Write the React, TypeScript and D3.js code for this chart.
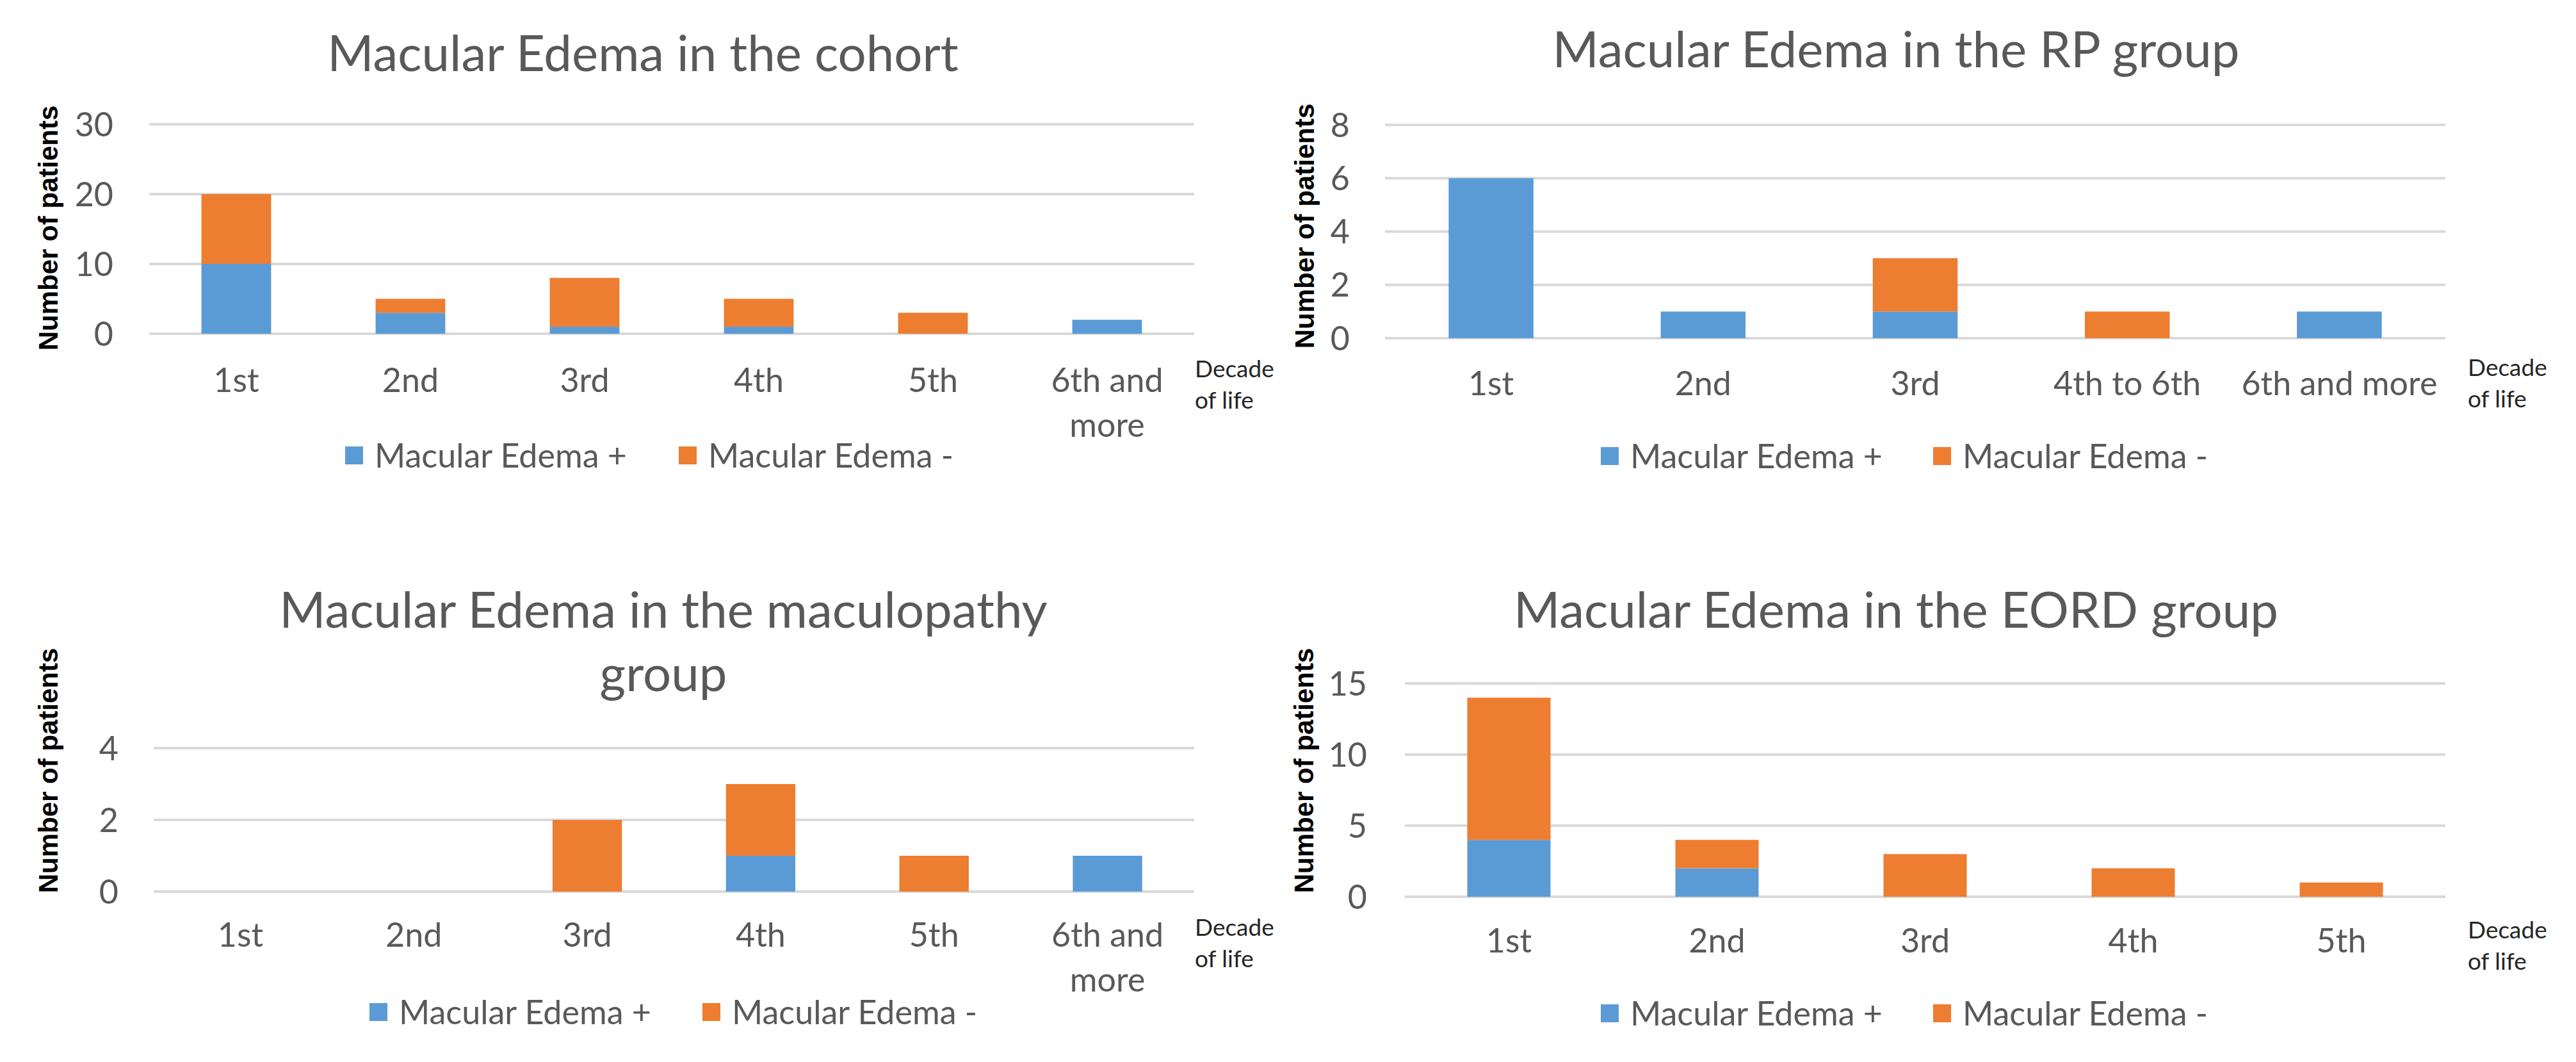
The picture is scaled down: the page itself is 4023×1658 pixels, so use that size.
import React from "react";
import * as d3 from "d3";

// decade-of-life categories per group
const cohortCats = ["1st", "2nd", "3rd", "4th", "5th", "6th and\nmore"];
const cohortPlus = [10, 3, 1, 1, 0, 2];
const cohortMinus = [10, 2, 7, 4, 3, 0];

const rpCats = ["1st", "2nd", "3rd", "4th to 6th", "6th and more"];
const rpPlus = [6, 1, 1, 0, 1];
const rpMinus = [0, 0, 2, 1, 0];

const macCats = ["1st", "2nd", "3rd", "4th", "5th", "6th and\nmore"];
const macPlus = [0, 0, 0, 1, 0, 1];
const macMinus = [0, 0, 2, 2, 1, 0];

const eordCats = ["1st", "2nd", "3rd", "4th", "5th"];
const eordPlus = [4, 2, 0, 0, 0];
const eordMinus = [10, 2, 3, 2, 1];

const seriesNames = ["Macular Edema +", "Macular Edema -"];
const seriesColors = ["#5B9BD5", "#ED7D31"];

const W = 4023;
const H = 1658;
const TEXT = "#595959";
const FONT = "Lato, 'Open Sans', sans-serif";

interface PanelProps {
  title: string[];
  titleX: number;
  titleY: number[];
  cats: string[];
  plus: number[];
  minus: number[];
  yMax: number;
  yStep: number;
  x0: number;
  x1: number;
  yTop: number;
  yBottom: number;
  tickRight: number;
  yTitleX: number;
  yTitleY: number;
  labelY: number;
  decadeX: number;
  decadeY: number;
  legendY: number;
  legendX: number[];
}

const Panel: React.FC<PanelProps> = (p) => {
  const x = d3.scaleBand<string>().domain(p.cats).range([p.x0, p.x1]).paddingInner(0.6).paddingOuter(0.3);
  const y = d3.scaleLinear().domain([0, p.yMax]).range([p.yBottom, p.yTop]);
  const ticks = d3.range(0, p.yMax + p.yStep / 2, p.yStep);
  const stacked = d3.stack<number>().keys(["0", "1"]).value((i, k) => (k === "0" ? p.plus[i] : p.minus[i]))(
    d3.range(p.cats.length)
  );

  return (
    <g>
      {p.title.map((t, i) => (
        <text key={i} x={p.titleX} y={p.titleY[i]} textAnchor="middle" fontSize={78} fill={TEXT} fontFamily={FONT}>
          {t}
        </text>
      ))}
      {ticks.map((t) => (
        <g key={t}>
          <line x1={p.x0} x2={p.x1} y1={y(t)} y2={y(t)} stroke="#D9D9D9" strokeWidth={4} />
          <text x={p.tickRight} y={y(t)} dy="0.36em" textAnchor="end" fontSize={52} fill={TEXT} fontFamily={FONT}>
            {t}
          </text>
        </g>
      ))}
      {stacked.map((s, k) =>
        s.map((d, i) =>
          d[1] - d[0] > 0 ? (
            <rect
              key={`${k}-${i}`}
              x={x(p.cats[i])}
              width={x.bandwidth()}
              y={y(d[1])}
              height={y(d[0]) - y(d[1])}
              fill={seriesColors[k]}
            />
          ) : null
        )
      )}
      {p.cats.map((c) => (
        <text
          key={c}
          x={(x(c) ?? 0) + x.bandwidth() / 2}
          y={p.labelY}
          textAnchor="middle"
          fontSize={52}
          fill={TEXT}
          fontFamily={FONT}
        >
          {c.split("\n").map((line, j) => (
            <tspan key={j} x={(x(c) ?? 0) + x.bandwidth() / 2} dy={j === 0 ? 0 : 70}>
              {line}
            </tspan>
          ))}
        </text>
      ))}
      <text x={p.decadeX} y={p.decadeY} fontSize={37} fill="#262626" fontFamily={FONT}>
        <tspan x={p.decadeX}>Decade</tspan>
        <tspan x={p.decadeX} dy={49}>of life</tspan>
      </text>
      <text
        transform={`translate(${p.yTitleX},${p.yTitleY}) rotate(-90)`}
        textAnchor="middle"
        dy="0.35em"
        fontSize={42}
        fontWeight="bold"
        fill="#000"
        fontFamily="'Liberation Sans', Arial, sans-serif"
      >
        Number of patients
      </text>
      {seriesNames.map((n, k) => (
        <g key={n}>
          <rect x={p.legendX[k]} y={p.legendY - 14} width={28} height={28} fill={seriesColors[k]} />
          <text x={p.legendX[k] + 46} y={p.legendY} dy="0.36em" fontSize={52} fill={TEXT} fontFamily={FONT}>
            {n}
          </text>
        </g>
      ))}
    </g>
  );
};

const App: React.FC = () => {
  return (
    <svg width={W} height={H} style={{ position: "absolute", left: 0, top: 0, background: "#fff" }}>
      <rect width={W} height={H} fill="#fff" />
      <Panel
        title={["Macular Edema in the cohort"]}
        titleX={1004}
        titleY={[111]}
        cats={cohortCats}
        plus={cohortPlus}
        minus={cohortMinus}
        yMax={30}
        yStep={10}
        x0={233}
        x1={1865}
        yTop={194}
        yBottom={521}
        tickRight={177}
        yTitleX={75}
        yTitleY={356}
        labelY={612}
        decadeX={1866}
        decadeY={589}
        legendY={711}
        legendX={[539, 1060]}
      />
      <Panel
        title={["Macular Edema in the RP group"]}
        titleX={2961}
        titleY={[105]}
        cats={rpCats}
        plus={rpPlus}
        minus={rpMinus}
        yMax={8}
        yStep={2}
        x0={2163}
        x1={3819}
        yTop={195}
        yBottom={528}
        tickRight={2108}
        yTitleX={2037}
        yTitleY={353}
        labelY={617}
        decadeX={3854}
        decadeY={587}
        legendY={712}
        legendX={[2500, 3019]}
      />
      <Panel
        title={["Macular Edema in the maculopathy", "group"]}
        titleX={1036}
        titleY={[980, 1079]}
        cats={macCats}
        plus={macPlus}
        minus={macMinus}
        yMax={4}
        yStep={2}
        x0={240}
        x1={1865}
        yTop={1168}
        yBottom={1392}
        tickRight={185}
        yTitleX={75}
        yTitleY={1203}
        labelY={1478}
        decadeX={1866}
        decadeY={1461}
        legendY={1580}
        legendX={[577, 1097]}
      />
      <Panel
        title={["Macular Edema in the EORD group"]}
        titleX={2961}
        titleY={[980]}
        cats={eordCats}
        plus={eordPlus}
        minus={eordMinus}
        yMax={15}
        yStep={5}
        x0={2194}
        x1={3819}
        yTop={1067}
        yBottom={1400}
        tickRight={2135}
        yTitleX={2036}
        yTitleY={1203}
        labelY={1487}
        decadeX={3854}
        decadeY={1465}
        legendY={1582}
        legendX={[2500, 3019]}
      />
    </svg>
  );
};

export default App;
